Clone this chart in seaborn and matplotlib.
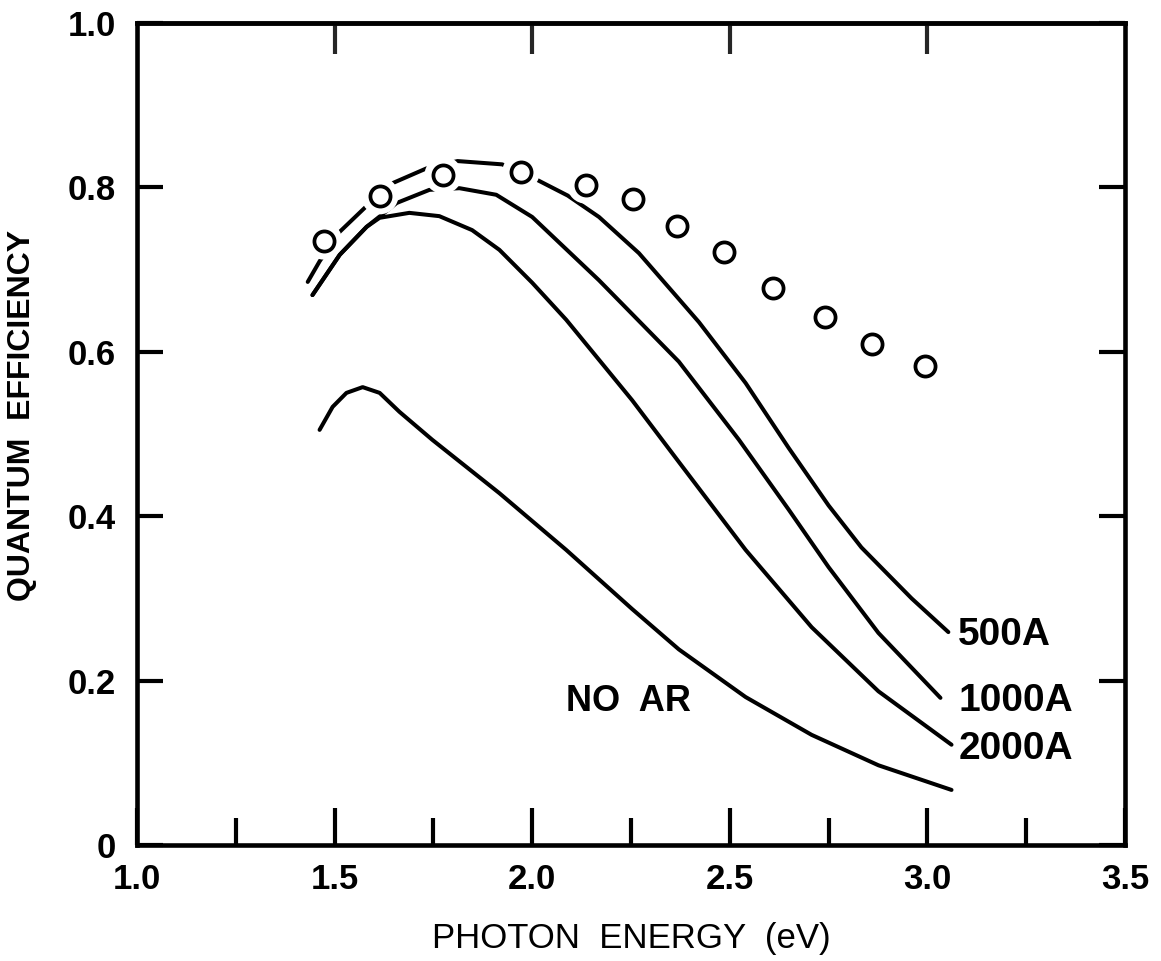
import matplotlib
matplotlib.use("Agg")
import matplotlib.pyplot as plt
import seaborn as sns

# ---------------- data ----------------
# measured points (open circles)
meas_energy = [1.472, 1.614, 1.775, 1.972, 2.136, 2.255, 2.366, 2.485, 2.609, 2.742, 2.861, 2.995]
meas_qe     = [0.735, 0.790, 0.815, 0.819, 0.803, 0.786, 0.753, 0.721, 0.678, 0.642, 0.609, 0.583]

# 500 A curve
e_500  = [1.432, 1.462, 1.513, 1.576, 1.646, 1.732, 1.811, 1.924, 2.013, 2.090, 2.169, 2.270,
          2.366, 2.422, 2.540, 2.649, 2.750, 2.833, 2.960, 3.053]
qe_500 = [0.685, 0.710, 0.746, 0.775, 0.805, 0.823, 0.832, 0.828, 0.809, 0.790, 0.764, 0.720,
          0.667, 0.636, 0.562, 0.483, 0.413, 0.362, 0.300, 0.259]

# 1000 A curve
e_1000  = [1.444, 1.513, 1.581, 1.657, 1.740, 1.816, 1.909, 2.000, 2.169, 2.371, 2.523, 2.649,
           2.750, 2.876, 3.033]
qe_1000 = [0.669, 0.718, 0.752, 0.781, 0.797, 0.799, 0.791, 0.764, 0.687, 0.588, 0.493, 0.408,
           0.338, 0.258, 0.179]

# 2000 A curve
e_2000  = [1.444, 1.513, 1.581, 1.614, 1.689, 1.765, 1.848, 1.917, 2.000, 2.086, 2.253, 2.371,
           2.540, 2.707, 2.876, 3.061]
qe_2000 = [0.669, 0.718, 0.752, 0.763, 0.769, 0.765, 0.748, 0.724, 0.684, 0.639, 0.541, 0.466,
           0.359, 0.265, 0.187, 0.122]

# no anti-reflection coating
e_noar  = [1.462, 1.495, 1.530, 1.571, 1.614, 1.664, 1.747, 1.917, 2.086, 2.253, 2.371, 2.540,
           2.707, 2.876, 3.061]
qe_noar = [0.505, 0.533, 0.550, 0.557, 0.550, 0.527, 0.493, 0.428, 0.359, 0.287, 0.238, 0.180,
           0.134, 0.097, 0.067]

curve_labels = ["500A", "1000A", "2000A", "NO  AR"]
label_pos_x  = [3.078, 3.078, 3.078, 2.086]
label_pos_y  = [0.2555, 0.175, 0.117, 0.174]

x_major = [1.0, 1.5, 2.0, 2.5, 3.0, 3.5]
x_major_labels = ["1.0", "1.5", "2.0", "2.5", "3.0", "3.5"]
x_minor = [1.25, 1.75, 2.25, 2.75, 3.25]
x_top = [1.5, 2.0, 2.5, 3.0]
y_ticks = [0.0, 0.2, 0.4, 0.6, 0.8, 1.0]
y_tick_labels = ["0", "0.2", "0.4", "0.6", "0.8", "1.0"]

# ---------------- style ----------------
sns.set_style("ticks")
plt.rcParams['font.family'] = ['Liberation Sans', 'DejaVu Sans']

fig = plt.figure(figsize=(11.61, 9.61), dpi=100)
ax = fig.add_axes([0.118, 0.1207, 0.851, 0.8554])

LW = 2.9
line_kw = dict(color="black", linewidth=LW, estimator=None, sort=False,
               solid_capstyle="round", solid_joinstyle="round", legend=False)

# lines that are broken around the open circles
sns.lineplot(x=e_500, y=qe_500, ax=ax, zorder=2, **line_kw)
sns.lineplot(x=e_1000, y=qe_1000, ax=ax, zorder=2, **line_kw)
# white halo that cuts the lines near the circles
sns.scatterplot(x=meas_energy, y=meas_qe, ax=ax, s=27**2, color="white",
                edgecolor="none", linewidth=0, zorder=3, legend=False)
# unbroken lines
sns.lineplot(x=e_2000, y=qe_2000, ax=ax, zorder=4, **line_kw)
sns.lineplot(x=e_noar, y=qe_noar, ax=ax, zorder=4, **line_kw)
# open circles
sns.scatterplot(x=meas_energy, y=meas_qe, ax=ax, s=14.5**2, color="white",
                edgecolor="black", linewidth=2.7, zorder=5, legend=False)

for lab, lx, ly in zip(curve_labels, label_pos_x, label_pos_y):
    ax.text(lx, ly, lab, fontsize=28 if lab != "NO  AR" else 26, fontweight="bold",
            ha="left", va="center", color="black", zorder=6)

ax.set_xlim(1.0, 3.5)
ax.set_ylim(0.0, 1.0)

for sp in ax.spines.values():
    sp.set_visible(True)
    sp.set_linewidth(3.3)
    sp.set_color("black")

ax.set_xticks(x_major)
ax.set_xticklabels(x_major_labels, fontweight="bold")
ax.set_xticks(x_minor, minor=True)
ax.set_yticks(y_ticks)
ax.set_yticklabels(y_tick_labels, fontweight="bold")

ax.tick_params(axis="x", which="major", direction="in", length=27, width=3,
               labelsize=25, pad=13, top=False, bottom=True, colors="black")
ax.tick_params(axis="x", which="minor", direction="in", length=19.5, width=3,
               top=False, bottom=True, colors="black")
ax.tick_params(axis="y", which="major", direction="in", length=19, width=3,
               labelsize=25, pad=15, left=True, right=True, colors="black")

top = ax.secondary_xaxis("top")
top.set_xticks(x_top)
top.tick_params(axis="x", direction="in", length=22, width=3, labeltop=False)
top.spines["top"].set_linewidth(3.3)

ax.set_xlabel("PHOTON  ENERGY  (eV)", fontsize=25, color="black")
ax.xaxis.set_label_coords(0.5, -0.094)
ax.set_ylabel("QUANTUM  EFFICIENCY", fontsize=23, fontweight="bold", color="black")
ax.yaxis.set_label_coords(-0.101, 0.522)

fig.savefig("out.png", dpi=100, facecolor="white")
